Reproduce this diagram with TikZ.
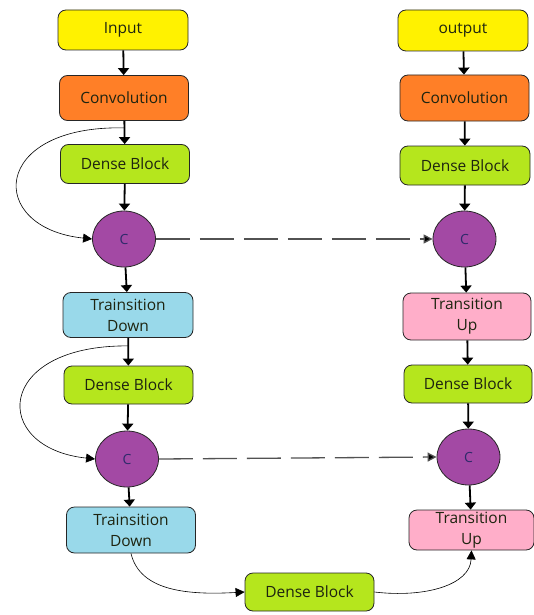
\documentclass[tikz,border=0pt]{standalone}
\usepackage{fontspec}
\setmainfont{Open Sans}
\usetikzlibrary{shapes.geometric,arrows.meta,calc}
\definecolor{cyel}{HTML}{FFF200}
\definecolor{cora}{HTML}{FF7F27}
\definecolor{cgrn}{HTML}{B5E61D}
\definecolor{cpur}{HTML}{A349A4}
\definecolor{cblu}{HTML}{99D9EA}
\definecolor{cpnk}{HTML}{FFAEC9}
\definecolor{ctxt}{HTML}{1E2410}
\definecolor{cctx}{HTML}{2E2A6A}
\tikzset{
  box/.style={draw=black!85, line width=0.8pt, rounded corners=8pt, align=center,
    inner sep=1pt, font=\fontsize{15.5}{21}\selectfont, text=ctxt},
  cnode/.style={ellipse, draw=black!85, line width=0.8pt, fill=cpur,
    minimum width=63pt, minimum height=56pt, inner sep=0pt,
    font=\fontsize{14}{16}\selectfont, text=cctx},
  flow/.style={line width=1.8pt, -{Triangle[width=11pt,length=7pt]}},
  skip/.style={line width=0.6pt, -{Triangle[width=9pt,length=9pt]}},
  bridge/.style={line width=1.3pt, draw=black!68, dash pattern=on 34pt off 10pt,
    -{Triangle[width=9pt,length=9pt,fill=black]}},
}
\begin{document}
\begin{tikzpicture}[x=1pt,y=-1pt]
\useasboundingbox (0,0) rectangle (534,615);
% left column
\node[box, fill=cyel, minimum width=130pt, minimum height=40pt] (in) at (123,30) {Input};
\node[box, fill=cora, minimum width=129pt, minimum height=45pt] (conv1) at (124,98) {Convolution};
\node[box, fill=cgrn, minimum width=129pt, minimum height=39pt] (db1) at (125,164) {Dense Block};
\node[cnode] (c1) at (124,239) {C};
\node[box, fill=cblu, minimum width=130pt, minimum height=45pt] (td1) at (128,315) {Trainsition\\Down};
\node[box, fill=cgrn, minimum width=129pt, minimum height=38pt] (db2) at (128.5,385) {Dense Block};
\node[cnode] (c2) at (127,459) {C};
\node[box, fill=cblu, minimum width=129pt, minimum height=46pt] (td2) at (131,530) {Trainsition\\Down};
\node[box, fill=cgrn, minimum width=129pt, minimum height=38pt] (db3) at (309.5,592) {Dense Block};
% right column
\node[box, fill=cyel, minimum width=130pt, minimum height=41pt] (out) at (463,30.5) {output};
\node[box, fill=cora, minimum width=129pt, minimum height=46pt] (conv2) at (464.5,98) {Convolution};
\node[box, fill=cgrn, minimum width=130pt, minimum height=39pt] (db4) at (465,165.5) {Dense Block};
\node[cnode] (c3) at (464.5,239) {C};
\node[box, fill=cpnk, minimum width=128pt, minimum height=47pt] (tu1) at (467,316.5) {Transition\\Up};
\node[box, fill=cgrn, minimum width=128pt, minimum height=38pt] (db5) at (468,384) {Dense Block};
\node[cnode] (c4) at (468.5,457) {C};
\node[box, fill=cpnk, minimum width=125pt, minimum height=40pt] (tu2) at (471.5,530) {Transition\\Up};
% vertical flow
\draw[flow] (in) -- (conv1);
\draw[flow] (conv1) -- (db1);
\draw[flow] (db1) -- (c1);
\draw[flow] (c1) -- (td1);
\draw[flow] (td1) -- (db2);
\draw[flow] (db2) -- (c2);
\draw[flow] (c2) -- (td2);
\draw[flow] (out) -- (conv2);
\draw[flow] (conv2) -- (db4);
\draw[flow] (db4) -- (c3);
\draw[flow] (c3) -- (tu1);
\draw[flow] (tu1) -- (db5);
\draw[flow] (db5) -- (c4);
\draw[flow] (c4) -- (tu2);
% skip connections
\coordinate (s1) at ($(conv1.south)+(0,7)$);
\coordinate (s2) at ($(td1.south)+(0,8)$);
\draw[skip] (s1) .. controls (-10,125) and (-14,228) .. (c1.west);
\draw[skip] (s2) .. controls (-6,345) and (-10,448) .. (c2.west);
% bridges
\draw[bridge] (c1.east) -- (c3.west);
\draw[bridge] (c2.east) -- (c4.west);
% bottom
\draw[skip] (td2.south) .. controls (140,592) and (190,595) .. (db3.west);
\draw[skip] (db3.east) .. controls (425,598) and (470,585) .. (tu2.south);
\end{tikzpicture}
\end{document}
